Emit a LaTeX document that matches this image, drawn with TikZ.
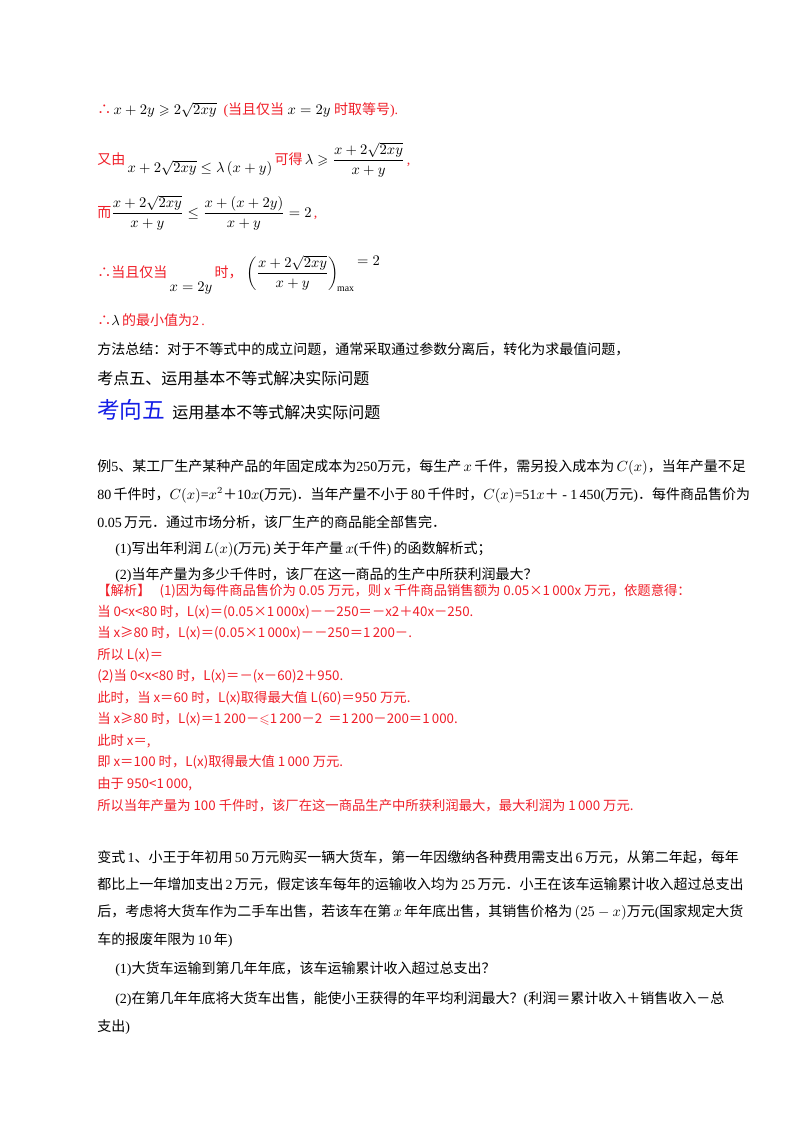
\documentclass[tikz,border=0pt]{standalone}
\usepackage{amsmath,amssymb}
\usepackage{fontspec}
\setmainfont{Liberation Serif}
\newfontfamily\cjk{Noto Sans CJK SC}
\definecolor{rd}{RGB}{240,30,40}
\definecolor{bl}{RGB}{20,30,230}
\begin{document}
\begin{tikzpicture}[x=0.75pt,y=-0.75pt,
  t/.style={anchor=west,inner sep=0pt,font=\fontsize{10.5}{12}\selectfont},
  r/.style={t,text=rd},
  rs/.style={t,text=rd,font=\fontsize{10}{12}\cjk},
  k/.style={t,text=black}]
\useasboundingbox[fill=white] (0,0) rectangle (800,1132);
\node[r] (l1) at (97,110) {{\cjk ∴}\,\textcolor{black}{$x+2y\geqslant2\sqrt{2xy}$}\ \ ({\cjk 当且仅当} \textcolor{black}{$x=2y$} {\cjk 时取等号}).};
\node[r] (l2) at (97,160) {{\cjk 又由}\,\textcolor{black}{\raisebox{-1.2ex}{$x+2\sqrt{2xy}\le\lambda\left(x+y\right)$}}\,{\cjk 可得}\,\textcolor{black}{$\lambda\geqslant\dfrac{x+2\sqrt{2xy}}{x+y}$}\,,};
\node[r] (l3) at (97,213) {{\cjk 而}\textcolor{black}{$\dfrac{x+2\sqrt{2xy}}{x+y}\le\dfrac{x+\left(x+2y\right)}{x+y}=2$}\,,};
\node[r] (l4) at (97,275) {{\cjk ∴当且仅当}\,\textcolor{black}{\raisebox{-2.2ex}{$x=2y$}}\,{\cjk 时，}\ \textcolor{black}{$\left(\dfrac{x+2\sqrt{2xy}}{x+y}\right)_{\!\max}\raisebox{1.8ex}{$=2$}$}};
\node[r] (l5) at (97,320) {{\cjk ∴}\textcolor{black}{$\lambda$}\,{\cjk 的最小值为}2\,.};
\node[k] (l6) at (97,349) {{\cjk 方法总结：对于不等式中的成立问题，通常采取通过参数分离后，转化为求最值问题，}};
\node[k,font=\fontsize{12}{14}\selectfont] (l7) at (97,378) {{\cjk 考点五、运用基本不等式解决实际问题}};
\node[k] (l8) at (97,410) {{\fontsize{17}{20}\cjk\color{bl}考向五}\ \ {\fontsize{12}{14}\cjk 运用基本不等式解决实际问题}};
\node[k] (e1) at (97,467) {{\cjk 例}5{\cjk 、某工厂生产某种产品的年固定成本为}250{\cjk 万元，每生产}\,$x$\,{\cjk 千件，需另投入成本为}\,$C(x)${\cjk ，当年产量不足}};
\node[k] (e2) at (97,495) {80\,{\cjk 千件时，}$C(x)$=$x^2${\cjk ＋}10$x$({\cjk 万元}){\cjk ．当年产量不小于}\,80\,{\cjk 千件时，}$C(x)$=51$x${\cjk ＋}\ -\ 1\,450({\cjk 万元}){\cjk ．每件商品售价为}};
\node[k] (e3) at (97,522) {0.05\,{\cjk 万元．通过市场分析，该厂生产的商品能全部售完．}};
\node[k] (e4) at (115,549) {(1){\cjk 写出年利润}\,$L(x)$({\cjk 万元})\,{\cjk 关于年产量}\,$x$({\cjk 千件})\,{\cjk 的函数解析式；}};
\node[k] (e5) at (115,575) {(2){\cjk 当年产量为多少千件时，该厂在这一商品的生产中所获利润最大？}};
\node[rs] (s1) at (97,591) {【解析】\ \ \ (1)因为每件商品售价为 0.05 万元，则 x 千件商品销售额为 0.05×1\,000x 万元，依题意得：};
\node[rs] (s2) at (97,612) {当 0<x<80 时，L(x)＝(0.05×1\,000x)－－250＝－x2＋40x－250.};
\node[rs] (s3) at (97,633.5) {当 x≥80 时，L(x)＝(0.05×1\,000x)－－250＝1\,200－.};
\node[rs] (s4) at (97,655) {所以 L(x)＝};
\node[rs] (s5) at (97,676.5) {(2)当 0<x<80 时，L(x)＝－(x－60)2＋950.};
\node[rs] (s6) at (97,698) {此时，当 x＝60 时，L(x)取得最大值 L(60)＝950 万元.};
\node[rs] (s7) at (97,719.5) {当 x≥80 时，L(x)＝1\,200－$\leqslant$1\,200－2\ \ ＝1\,200－200＝1\,000.};
\node[rs] (s8) at (97,741) {此时 x＝,};
\node[rs] (s9) at (97,762.5) {即 x＝100 时，L(x)取得最大值 1\,000 万元.};
\node[rs] (s10) at (97,784) {由于 950<1\,000,};
\node[rs] (s11) at (97,805.5) {所以当年产量为 100 千件时，该厂在这一商品生产中所获利润最大，最大利润为 1\,000 万元.};
\node[k] (v1) at (97,857) {{\cjk 变式}\,1{\cjk 、小王于年初用}\,50\,{\cjk 万元购买一辆大货车，第一年因缴纳各种费用需支出}\,6\,{\cjk 万元，从第二年起，每年}};
\node[k] (v2) at (97,884) {{\cjk 都比上一年增加支出}\,2\,{\cjk 万元，假定该车每年的运输收入均为}\,25\,{\cjk 万元．小王在该车运输累计收入超过总支出}};
\node[k] (v3) at (97,912) {{\cjk 后，考虑将大货车作为二手车出售，若该车在第}\,$x$\,{\cjk 年年底出售，其销售价格为}\,$\left(25-x\right)${\cjk 万元}({\cjk 国家规定大货}};
\node[k] (v4) at (97,940) {{\cjk 车的报废年限为}\,10\,{\cjk 年})．};
\node[k] (v5) at (115,969) {(1){\cjk 大货车运输到第几年年底，该车运输累计收入超过总支出？}};
\node[k] (v6) at (115,999) {(2){\cjk 在第几年年底将大货车出售，能使小王获得的年平均利润最大？}({\cjk 利润＝累计收入＋销售收入－总}};
\node[k] (v7) at (97,1027) {{\cjk 支出})};
\end{tikzpicture}
\end{document}
